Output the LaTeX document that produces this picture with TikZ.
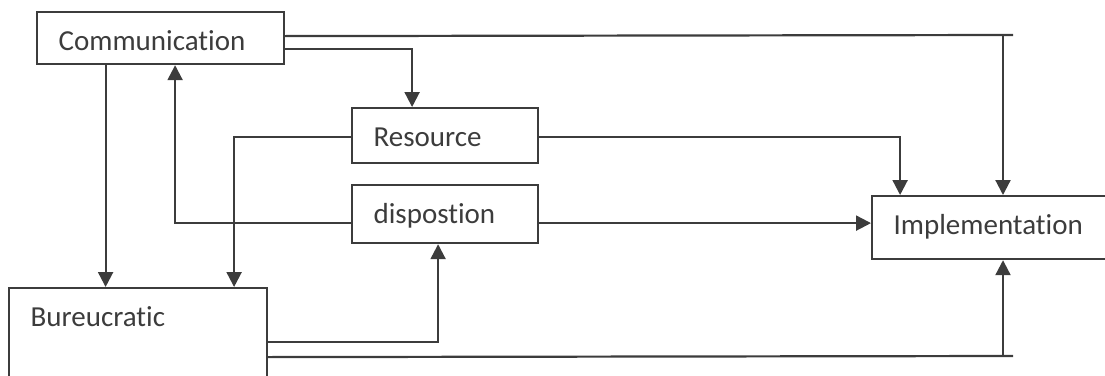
\documentclass[tikz,border=0pt]{standalone}
\usepackage{fontspec}
\setmainfont{Carlito}[Ligatures=NoCommon]
\usetikzlibrary{arrows.meta}
\definecolor{ink}{HTML}{3C3C3C}

\begin{document}
\begin{tikzpicture}[x=1pt, y=-1pt, line width=2.2pt, color=ink,
    blok/.style={draw, rectangle, anchor=north west, align=left, inner xsep=21.5pt, inner ysep=0pt, text height=38pt, font=\fontsize{29}{34}\selectfont},
    arr/.style={-{Triangle[length=15pt,width=15pt]}}]
    \useasboundingbox (0,0) rectangle (1105,375);
    \clip (0,0) rectangle (1105,375);

    \node at (36,11) [blok, text width=204pt, text depth=14pt] (comm) {Communication};
    \node at (351,107) [blok, text width=143pt, text depth=17pt] (res) {Resource};
    \node at (351,184) [blok, text width=143pt, text depth=20pt] (disp) {dispostion};
    \node at (871,195) [blok, text width=202pt, text depth=25pt] (impl) {Implementation};
    \node at (8,287) [blok, text width=215pt, text depth=75pt] (bur) {Bureucratic};

    \coordinate (topend) at (1013,35);
    \coordinate (botend) at (1013,356);

    \draw ([yshift=2pt]comm.east) -- (topend);
    \draw[arr] ([xshift=-10pt]topend) -- ([xshift=-10pt]topend |- impl.north);
    \draw[arr] ([yshift=-11pt]comm.east) -| ([xshift=-33pt]res.north);
    \draw[arr] ([xshift=-55pt]comm.south) -- ([xshift=-55pt]comm.south |- bur.north);
    \draw[arr] ([yshift=-1.5pt]res.west) -| ([xshift=96pt]bur.north);
    \draw[arr] ([yshift=-9pt]disp.west) -| ([xshift=14.5pt]comm.south);
    \draw[arr] ([yshift=-1.5pt]res.east) -| ([xshift=-94.5pt]impl.north);
    \draw[arr] ([yshift=-9pt]disp.east) -- ([yshift=-9pt]disp.east -| impl.west);
    \draw[arr] ([yshift=2.5pt]bur.east) -| ([xshift=-7pt]disp.south);
    \draw ([yshift=-12.5pt]bur.east) -- (botend);
    \draw[arr] ([xshift=-10pt]botend) -- ([xshift=-10pt]botend |- impl.south);
\end{tikzpicture}
\end{document}
